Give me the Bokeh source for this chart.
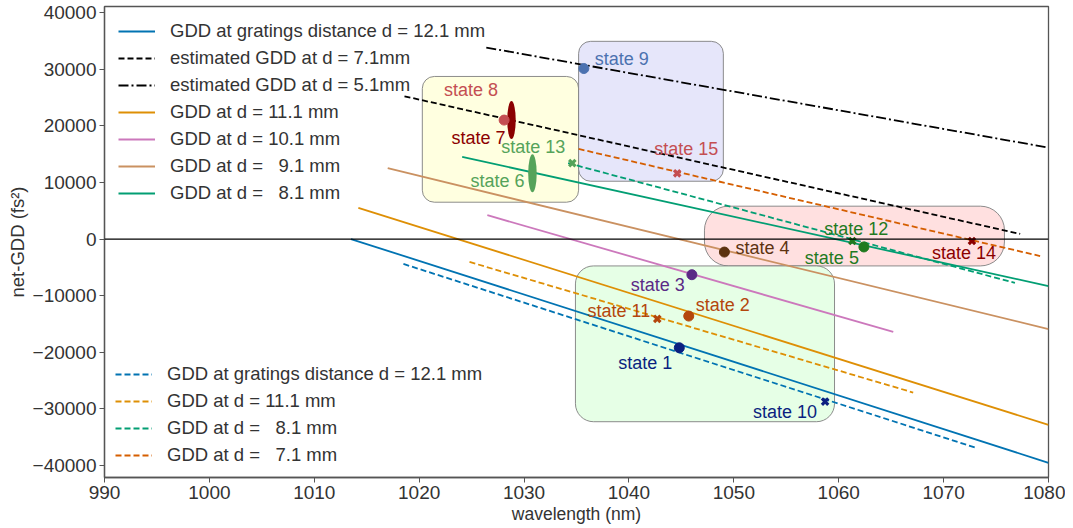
from bokeh.plotting import figure
from bokeh.models import (Legend, LegendItem, BoxAnnotation, Span,
                          FixedTicker, CustomJSTickFormatter, Range1d)
from bokeh.core.properties import value
from bokeh.embed import file_html
from bokeh.resources import INLINE

FONT = "Liberation Sans"
FS_TICK = "19px"
FS_LEG = "18.5px"
FS_LAB = "18px"
FS_AX = "17.5px"
TXT = "#333333"

# ---------------- data ----------------
x_ticks = [990, 1000, 1010, 1020, 1030, 1040, 1050, 1060, 1070, 1080]
y_ticks = [-40000, -30000, -20000, -10000, 0, 10000, 20000, 30000, 40000]

# GDD lines (wavelength nm, net-GDD fs^2), end points
wl_121 = [1013.5, 1080.0];   gdd_121 = [0, -39500]
wl_est71 = [1018.6, 1077.3]; gdd_est71 = [25200, 900]
wl_est51 = [1026.4, 1079.8]; gdd_est51 = [33800, 16200]
wl_111 = [1014.2, 1080.0];   gdd_111 = [5500, -32800]
wl_101 = [1026.5, 1065.2];   gdd_101 = [4200, -16400]
wl_91 = [1017.0, 1080.0];    gdd_91 = [12500, -15900]
wl_81 = [1024.1, 1080.0];    gdd_81 = [14500, -8300]

wl_121d = [1018.5, 1073.0];  gdd_121d = [-4400, -36800]
wl_111d = [1024.8, 1067.1];  gdd_111d = [-4050, -27100]
wl_81d = [1034.2, 1076.8];   gdd_81d = [13400, -7750]
wl_71d = [1035.2, 1079.2];   gdd_71d = [15900, -3000]

# states
state_names = ["state 1", "state 2", "state 3", "state 4", "state 5", "state 6", "state 7",
               "state 8", "state 9", "state 10", "state 11", "state 12", "state 13",
               "state 14", "state 15"]
state_wl = [1044.8, 1045.7, 1046.0, 1049.1, 1062.4, 1030.8, 1028.8,
            1028.1, 1035.7, 1058.7, 1042.7, 1061.3, 1034.6, 1072.7, 1044.6]
state_gdd = [-19200, -13600, -6300, -2300, -1400, 11600, 21000,
             21000, 30100, -28700, -14100, -350, 13400, -350, 11600]
state_kind = ["dot", "dot", "dot", "dot", "dot", "ellipse", "ellipse",
              "dot", "dot", "x", "x", "x", "x", "x", "x"]

# ---------------- styles ----------------
C_BLUE, C_ORANGE, C_GREEN, C_RED, C_PINK, C_TAN = "#0173b2", "#de8f05", "#029e73", "#d55e00", "#cc78bc", "#ca9161"
state_colors = ["#0b1f80", "#b4460c", "#5b2a86", "#5c3310", "#1f7a1f", "#55a35a", "#8b0000",
                "#c44e52", "#4c72b0", "#0b1f80", "#b4460c", "#1f7a1f", "#55a35a", "#8b0000", "#c44e52"]
# label placement: (align, dx px, dy px; positive dy = down)
label_style = [("right", -7, 15), ("left", 7, -11), ("right", -7, 10), ("left", 11, -4),
               ("right", -5, 11), ("right", -8, 8), ("right", -6, 18), ("right", -6, -30),
               ("left", 11, -10), ("right", -8, 10), ("right", -7, -8), ("center", 4, -12),
               ("right", -7, -16), ("center", -8, 12), ("center", 9, -24)]

p = figure(width=1065, height=526, output_backend="svg", toolbar_location=None,
           x_range=Range1d(990, 1080), y_range=Range1d(-42100, 41050),
           min_border_left=104, min_border_right=17, min_border_top=6, min_border_bottom=10)
p.background_fill_color = "white"
p.border_fill_color = "white"
p.outline_line_color = "#555555"
p.outline_line_width = 1.3
p.xgrid.visible = False
p.ygrid.visible = False

for ax in (p.xaxis[0], p.yaxis[0]):
    ax.major_label_text_font = FONT
    ax.major_label_text_font_size = FS_TICK
    ax.major_label_text_color = TXT
    ax.axis_label_text_font = FONT
    ax.axis_label_text_font_size = FS_AX
    ax.axis_label_text_color = TXT
    ax.axis_label_text_font_style = "normal"
    ax.axis_line_color = "#555555"
    ax.axis_line_width = 1.3
    ax.major_tick_line_color = "#555555"
    ax.major_tick_in = 0
    ax.major_tick_out = 5
    ax.minor_tick_line_color = None
    ax.major_label_standoff = 3
    ax.axis_label_standoff = 2
p.yaxis[0].axis_label_text_font_size = "18.5px"

p.xaxis.ticker = FixedTicker(ticks=x_ticks)
p.yaxis.ticker = FixedTicker(ticks=y_ticks)
p.yaxis.formatter = CustomJSTickFormatter(
    code="return tick < 0 ? '\u2212' + Math.abs(tick).toFixed(0) : tick.toFixed(0);")
p.xaxis.axis_label = "wavelength (nm)"
p.yaxis.axis_label = "net-GDD (fs\u00b2)"

# rounded boxes
boxes = [
    (1020.3, 1035.2, 28700, 6500, "#ffffe0", 12),
    (1035.2, 1049.0, 34900, 10200, "#e6e6fa", 12),
    (1047.2, 1075.8, 5800, -4750, "#ffe0e0", 24),
    (1034.9, 1059.6, -4750, -32250, "#e6ffe6", 18),
]
for l, r, t, b, fc, rad in boxes:
    p.add_layout(BoxAnnotation(left=l, right=r, top=t, bottom=b, fill_color=fc, fill_alpha=1.0,
                               line_color="#808080", line_alpha=0.9, line_width=1,
                               border_radius=rad, level="underlay"))

p.add_layout(Span(location=0, dimension="width", line_color="black", line_width=1.2))

LW = 1.8
DASH = "6 3"
r121 = p.line(wl_121, gdd_121, line_color=C_BLUE, line_width=LW)
rest71 = p.line(wl_est71, gdd_est71, line_color="black", line_width=LW, line_dash=DASH)
rest51 = p.line(wl_est51, gdd_est51, line_color="black", line_width=LW, line_dash="10 3 2 3")
r111 = p.line(wl_111, gdd_111, line_color=C_ORANGE, line_width=LW)
r101 = p.line(wl_101, gdd_101, line_color=C_PINK, line_width=LW)
r91 = p.line(wl_91, gdd_91, line_color=C_TAN, line_width=LW)
r81 = p.line(wl_81, gdd_81, line_color=C_GREEN, line_width=LW)

r121d = p.line(wl_121d, gdd_121d, line_color=C_BLUE, line_width=LW, line_dash=DASH)
r111d = p.line(wl_111d, gdd_111d, line_color=C_ORANGE, line_width=LW, line_dash=DASH)
r81d = p.line(wl_81d, gdd_81d, line_color=C_GREEN, line_width=LW, line_dash=DASH)
r71d = p.line(wl_71d, gdd_71d, line_color=C_RED, line_width=LW, line_dash=DASH)

# state markers
for i in range(len(state_names)):
    kind = state_kind[i]
    c = state_colors[i]
    if kind == "dot":
        p.scatter([state_wl[i]], [state_gdd[i]], marker="circle", size=10,
                  fill_color=c, line_color=c)
    elif kind == "x":
        p.scatter([state_wl[i]], [state_gdd[i]], marker="x", size=9,
                  line_color=c, line_width=3.2)
    else:
        p.ellipse(x=[state_wl[i]], y=[state_gdd[i]], width=8.5, height=38,
                  width_units="screen", height_units="screen",
                  fill_color=c, line_color=None)

for i, name in enumerate(state_names):
    align, dx, dy = label_style[i]
    p.text(x=[state_wl[i]], y=[state_gdd[i]], text=[name], x_offset=dx, y_offset=dy,
           text_align=align, text_baseline="middle", text_color=state_colors[i],
           text_font=value(FONT), text_font_size=FS_LAB)

def make_legend(items, loc, margin, padding):
    return Legend(items=items, location=loc, glyph_width=37, glyph_height=20,
                  label_height=20, label_standoff=15, spacing=5, padding=padding, margin=margin,
                  label_text_font=FONT, label_text_font_size=FS_LEG, label_text_color=TXT,
                  border_line_alpha=0, background_fill_alpha=0)

fsp = "\u2007"
leg1 = make_legend([
    LegendItem(label="GDD at gratings distance d = 12.1 mm", renderers=[r121]),
    LegendItem(label="estimated GDD at d = 7.1mm", renderers=[rest71]),
    LegendItem(label="estimated GDD at d = 5.1mm", renderers=[rest51]),
    LegendItem(label="GDD at d = 11.1 mm", renderers=[r111]),
    LegendItem(label="GDD at d = 10.1 mm", renderers=[r101]),
    LegendItem(label="GDD at d = " + fsp + "9.1 mm", renderers=[r91]),
    LegendItem(label="GDD at d = " + fsp + "8.1 mm", renderers=[r81]),
], "top_left", 4, 10)
leg2 = make_legend([
    LegendItem(label="GDD at gratings distance d = 12.1 mm", renderers=[r121d]),
    LegendItem(label="GDD at d = 11.1 mm", renderers=[r111d]),
    LegendItem(label="GDD at d = " + fsp + "8.1 mm", renderers=[r81d]),
    LegendItem(label="GDD at d = " + fsp + "7.1 mm", renderers=[r71d]),
], "bottom_left", 0, 11)
p.add_layout(leg1)
p.add_layout(leg2)

open("out.html", "w").write(file_html(p, INLINE))
